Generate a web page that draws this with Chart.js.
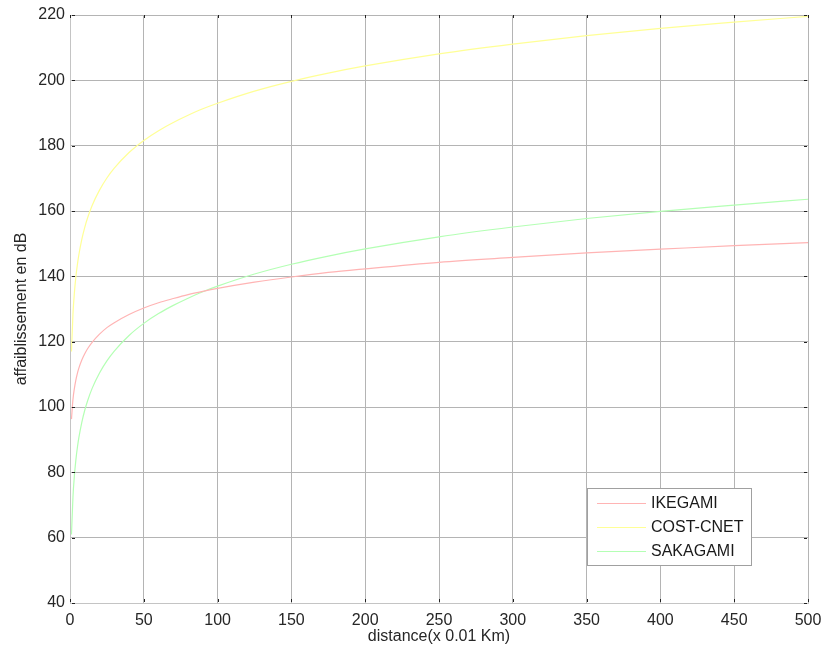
<!DOCTYPE html>
<html lang="fr">
<head>
    <meta charset="UTF-8">
    <title>Affaiblissement en fonction de la distance</title>
    <style>
        body {
            margin: 0;
            padding: 0;
            background: #fff;
        }
        #wrap {
            width: 824px;
            height: 652px;
        }
    </style>
</head>
<body>
    <div id="wrap">
        <canvas id="chart" width="824" height="652"></canvas>
    </div>

    <script src="https://cdn.jsdelivr.net/npm/chart.js"></script>
    <script>
        // distance (x 0.01 Km)
        const distances = [1, 2, 3, 4, 5, 6, 8, 10, 12, 15, 20, 25, 30, 40, 50, 60, 70, 80, 90, 100,
                           125, 150, 175, 200, 250, 300, 350, 400, 450, 500];

        // affaiblissement en dB
        const ikegami = [96.3, 102.3, 105.8, 108.3, 110.3, 111.9, 114.4, 116.3, 117.9, 119.8, 122.3, 124.3, 125.8, 128.3, 130.3,
                         131.9, 133.2, 134.4, 135.4, 136.3, 138.2, 139.8, 141.2, 142.3, 144.3, 145.8, 147.2, 148.3, 149.4, 150.3];
        const costCnet = [117.0, 128.4, 135.1, 139.9, 143.6, 146.6, 151.3, 155.0, 158.0, 161.7, 166.4, 170.1, 173.1, 177.9, 181.6,
                          184.6, 187.1, 189.3, 191.3, 193.0, 196.7, 199.7, 202.2, 204.4, 208.1, 211.1, 213.7, 215.9, 217.8, 219.6];
        const sakagami = [61.0, 72.4, 79.1, 83.9, 87.6, 90.6, 95.3, 99.0, 102.0, 105.7, 110.4, 114.1, 117.1, 121.9, 125.6,
                          128.6, 131.1, 133.3, 135.3, 137.0, 140.7, 143.7, 146.2, 148.4, 152.1, 155.1, 157.7, 159.9, 161.8, 163.6];

        const seriesNames = ['IKEGAMI', 'COST-CNET', 'SAKAGAMI'];
        const seriesColors = ['#ffb4b4', '#ffff96', '#b4ffb4'];

        const xTicks = [0, 50, 100, 150, 200, 250, 300, 350, 400, 450, 500];
        const yTicks = [40, 60, 80, 100, 120, 140, 160, 180, 200, 220];

        const FONT = '"Liberation Sans", Arial, sans-serif';

        function toPoints(values) {
            return distances.map((d, i) => ({ x: d, y: values[i] }));
        }

        // small inward ticks on the four sides, like the original figure
        const innerTicks = {
            id: 'innerTicks',
            afterDraw(chart) {
                const ctx = chart.ctx;
                const a = chart.chartArea;
                const xs = chart.scales.x, ys = chart.scales.y;
                ctx.save();
                ctx.strokeStyle = '#222';
                ctx.lineWidth = 1;
                ctx.beginPath();
                yTicks.forEach(v => {
                    const py = Math.round(ys.getPixelForValue(v)) + 0.5;
                    ctx.moveTo(a.left + 2, py); ctx.lineTo(a.left + 5, py);
                    ctx.moveTo(a.right - 4, py); ctx.lineTo(a.right - 1, py);
                });
                xTicks.forEach(v => {
                    const px = Math.round(xs.getPixelForValue(v)) + 0.5;
                    ctx.moveTo(px, a.bottom - 4); ctx.lineTo(px, a.bottom - 1);
                    ctx.moveTo(px, a.top); ctx.lineTo(px, a.top + 3);
                });
                ctx.stroke();
                ctx.restore();
            }
        };

        // legend box placed inside the axes, lower right
        const boxLegend = {
            id: 'boxLegend',
            afterDraw(chart) {
                const ctx = chart.ctx;
                const a = chart.chartArea;
                const w = 164, h = 77;
                const x0 = a.right - 57 - w, y0 = a.bottom - 38 - h;
                ctx.save();
                ctx.fillStyle = '#fff';
                ctx.fillRect(x0, y0, w, h);
                ctx.strokeStyle = '#a0a0a0';
                ctx.lineWidth = 1;
                ctx.strokeRect(x0 + 0.5, y0 + 0.5, w, h);
                ctx.font = '16px ' + FONT;
                ctx.textBaseline = 'middle';
                chart.data.datasets.forEach((ds, i) => {
                    const yy = y0 + 15 + i * 24;
                    ctx.strokeStyle = ds.borderColor;
                    ctx.beginPath();
                    ctx.moveTo(x0 + 10, Math.round(yy) + 0.5);
                    ctx.lineTo(x0 + 59, Math.round(yy) + 0.5);
                    ctx.stroke();
                    ctx.fillStyle = '#1a1a1a';
                    ctx.fillText(ds.label, x0 + 64, yy + 1);
                });
                ctx.restore();
            }
        };

        const ctx = document.getElementById('chart').getContext('2d');
        new Chart(ctx, {
            type: 'line',
            data: {
                datasets: [ikegami, costCnet, sakagami].map((vals, i) => ({
                    label: seriesNames[i],
                    data: toPoints(vals),
                    borderColor: seriesColors[i],
                    borderWidth: 1.2,
                    pointRadius: 0,
                    cubicInterpolationMode: 'monotone',
                    fill: false
                }))
            },
            options: {
                responsive: false,
                animation: false,
                layout: { padding: { top: 15, right: 16, left: 0, bottom: 0 } },
                plugins: {
                    legend: { display: false },
                    tooltip: { enabled: false }
                },
                scales: {
                    x: {
                        type: 'linear',
                        min: 0,
                        max: 500,
                        afterBuildTicks: s => { s.ticks = xTicks.map(v => ({ value: v })); },
                        afterFit: s => {
                            s.height = 49;
                            s.paddingLeft = 0;
                            s.paddingRight = 0;
                        },
                        grid: { color: '#b4b4b4', drawTicks: false },
                        border: { color: '#c4c4c4' },
                        ticks: {
                            padding: 8,
                            maxRotation: 0,
                            color: '#262626',
                            font: { family: FONT, size: 16 }
                        },
                        title: {
                            display: true,
                            text: 'distance(x 0.01 Km)',
                            color: '#262626',
                            font: { family: FONT, size: 16 },
                            padding: { top: 0, bottom: 6 }
                        }
                    },
                    y: {
                        min: 40,
                        max: 220,
                        afterBuildTicks: s => { s.ticks = yTicks.map(v => ({ value: v })); },
                        afterFit: s => {
                            s.width = 70;
                            s.paddingTop = 0;
                            s.paddingBottom = 0;
                        },
                        grid: { color: '#b4b4b4', drawTicks: false },
                        border: { color: '#c4c4c4' },
                        ticks: {
                            padding: 5,
                            color: '#262626',
                            font: { family: FONT, size: 16 }
                        },
                        title: {
                            display: true,
                            text: 'affaiblissement en dB',
                            color: '#262626',
                            font: { family: FONT, size: 16 },
                            padding: { top: 12, bottom: 0 }
                        }
                    }
                }
            },
            plugins: [innerTicks, boxLegend]
        });
    </script>
</body>
</html>
